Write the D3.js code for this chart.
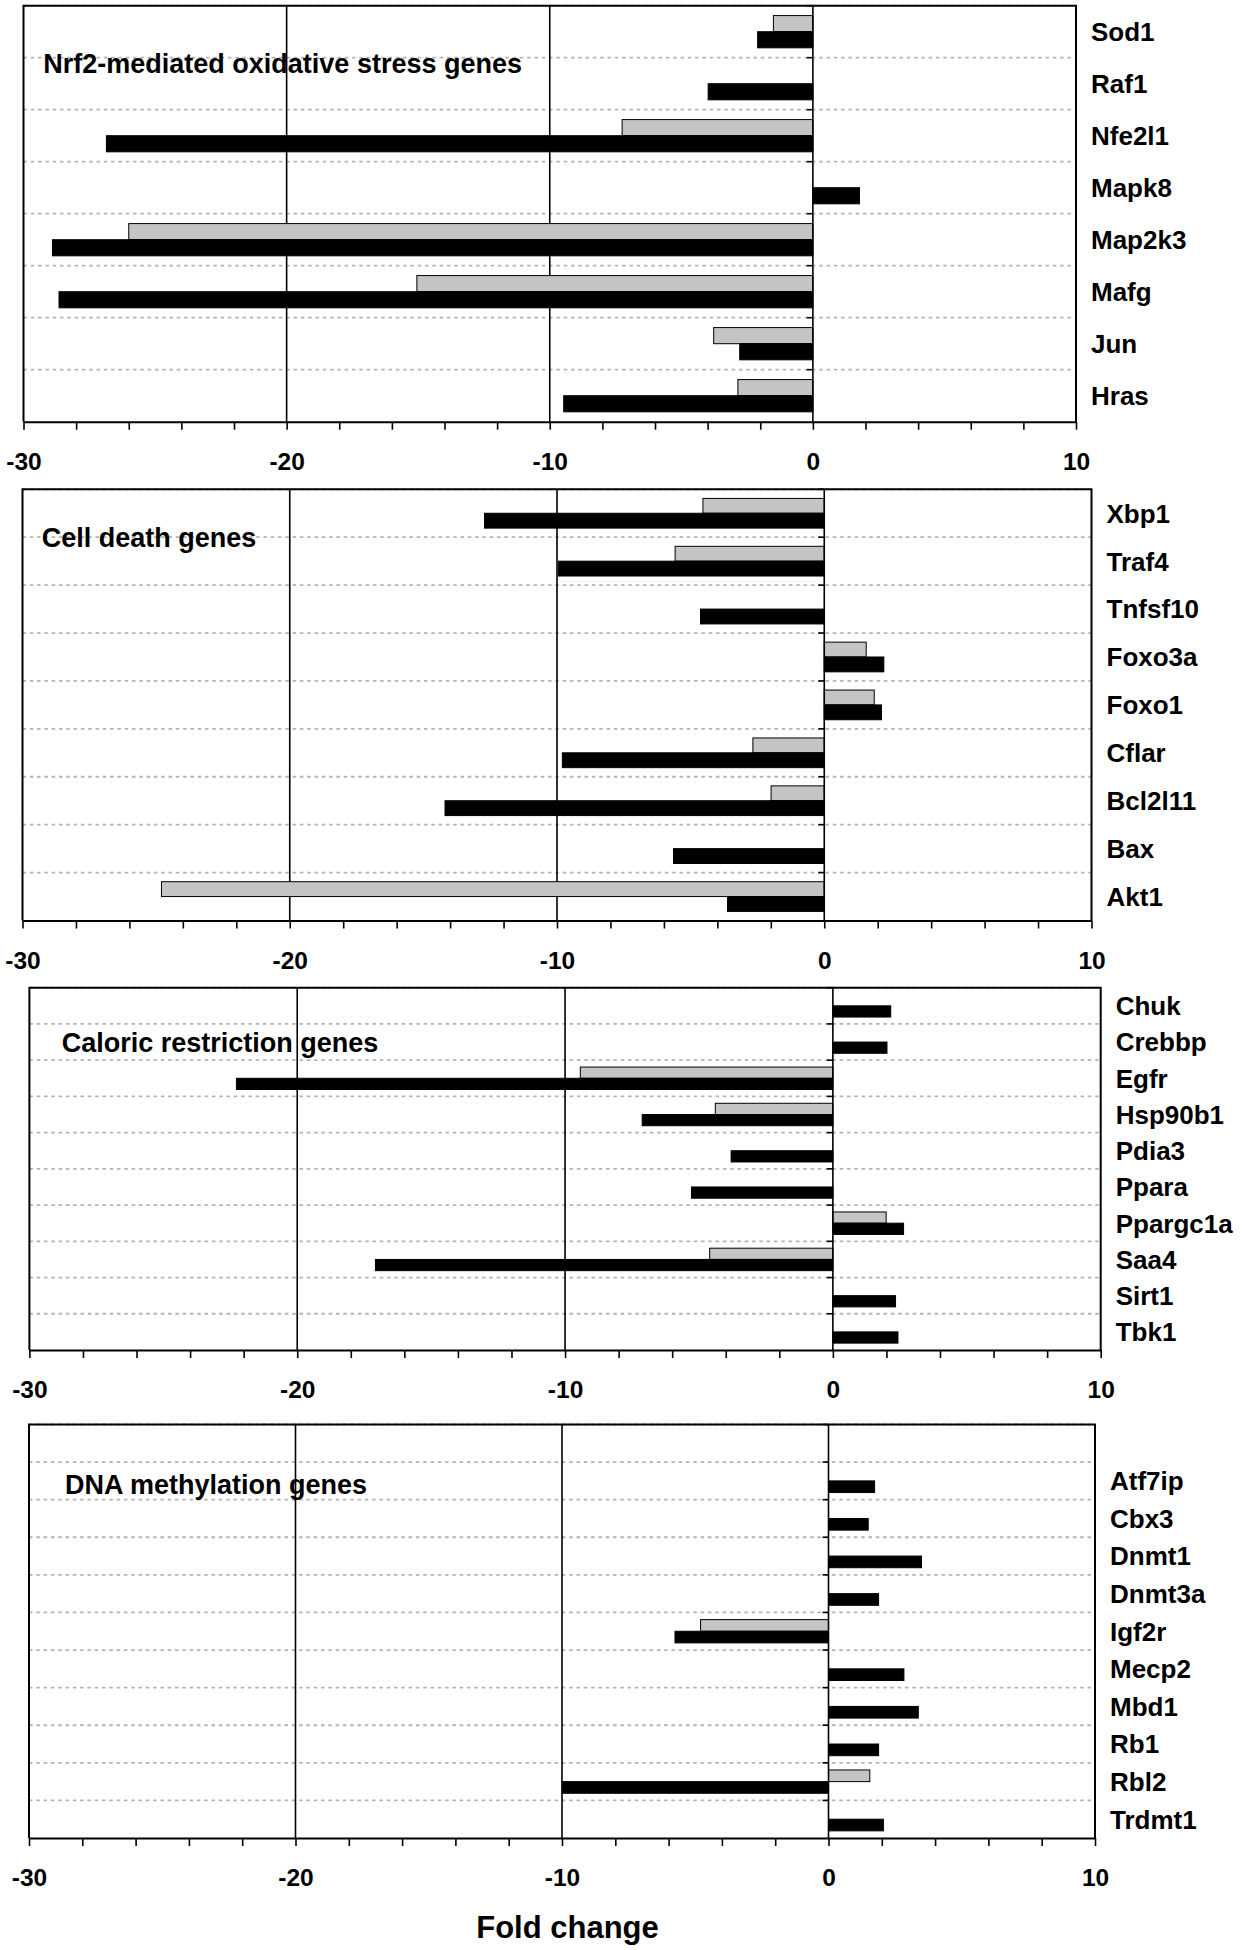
<!DOCTYPE html>
<html>
<head>
<meta charset="utf-8">
<script src="https://cdn.jsdelivr.net/npm/d3@7"></script>
<style>
  html, body { margin: 0; padding: 0; background: #fff; }
  svg { display: block; }
  text { font-family: "Liberation Sans", Arial, Helvetica, sans-serif; font-weight: bold; fill: #000; }
</style>
</head>
<body>
<script>
// ---------------- DATA ----------------
const title1 = "Nrf2-mediated oxidative stress genes";
const categories1 = ["Sod1", "Raf1", "Nfe2l1", "Mapk8", "Map2k3", "Mafg", "Jun", "Hras"];
const gray1  = [-1.5, null, -7.25, null, -26.0, -15.05, -3.77, -2.85];
const black1 = [-2.1, -3.98, -26.85, 1.77, -28.9, -28.65, -2.78, -9.47];

const title2 = "Cell death genes";
const categories2 = ["Xbp1", "Traf4", "Tnfsf10", "Foxo3a", "Foxo1", "Cflar", "Bcl2l11", "Bax", "Akt1"];
const gray2  = [-4.54, -5.58, null, 1.57, 1.87, -2.67, -1.99, null, -24.8];
const black2 = [-12.71, -9.95, -4.63, 2.23, 2.14, -9.8, -14.19, -5.64, -3.62];

const title3 = "Caloric restriction genes";
const categories3 = ["Chuk", "Crebbp", "Egfr", "Hsp90b1", "Pdia3", "Ppara", "Ppargc1a", "Saa4", "Sirt1", "Tbk1"];
const gray3  = [null, null, -9.43, -4.39, null, null, 1.99, -4.6, null, null];
const black3 = [2.16, 2.02, -22.27, -7.12, -3.8, -5.28, 2.64, -17.08, 2.34, 2.43];

const title4 = "DNA methylation genes";
const categories4 = ["", "Atf7ip", "Cbx3", "Dnmt1", "Dnmt3a", "Igf2r", "Mecp2", "Mbd1", "Rb1", "Rbl2", "Trdmt1"];
const gray4  = [null, null, null, null, null, -4.8, null, null, null, 1.55, null];
const black4 = [null, 1.73, 1.49, 3.49, 1.88, -5.76, 2.83, 3.37, 1.88, -9.99, 2.06];

const xDomain = [-30, 10];
const majorTicks = [-30, -20, -10, 0, 10];
const minorTicks = [-30, -28, -26, -24, -22, -20, -18, -16, -14, -12, -10, -8, -6, -4, -2, 0, 2, 4, 6, 8, 10];
const gridValues = [-20, -10];
const xAxisTitle = "Fold change";

// ---------------- LAYOUT ----------------
const layout = [
  { top: 5.7,    bottom: 421.7, left: 23.5, right: 1076,   titleX: 43.3, titleY: 73.3 },
  { top: 489.3,  bottom: 920.5, left: 22.5, right: 1091.5, titleX: 41.7, titleY: 547 },
  { top: 987.7,  bottom: 1350,  left: 29.4, right: 1100.7, titleX: 61.7, titleY: 1051.7 },
  { top: 1424.5, bottom: 1838,  left: 29,   right: 1095,   titleX: 65,   titleY: 1494 }
];

const panels = [
  { title: title1, cats: categories1, gray: gray1, black: black1 },
  { title: title2, cats: categories2, gray: gray2, black: black2 },
  { title: title3, cats: categories3, gray: gray3, black: black3 },
  { title: title4, cats: categories4, gray: gray4, black: black4 }
];

const colors = { gray: "#c4c4c4", black: "#000000" };

const svg = d3.select("body").append("svg")
  .attr("width", 1245).attr("height", 1950);

panels.forEach((p, i) => {
  const L = layout[i];
  const x = d3.scaleLinear().domain(xDomain).range([L.left, L.right]);
  const y = d3.scaleBand().domain(p.cats).range([L.top, L.bottom]);
  const bw = y.bandwidth();
  const pair = bw * 0.62;
  const sub = d3.scaleBand().domain(["gray", "black"]).range([(bw - pair) / 2, (bw + pair) / 2]);
  const g = svg.append("g");

  // dotted horizontal separators
  g.selectAll("line.sep").data(p.cats).join("line")
    .attr("class", "sep")
    .attr("x1", L.left).attr("x2", L.right)
    .attr("y1", d => y(d)).attr("y2", d => y(d))
    .attr("stroke", "#b3b3b3").attr("stroke-width", 1.8)
    .attr("stroke-dasharray", "3.5 3.8");

  // vertical gridlines
  g.selectAll("line.grid").data(gridValues).join("line")
    .attr("class", "grid")
    .attr("x1", d => x(d)).attr("x2", d => x(d))
    .attr("y1", L.top).attr("y2", L.bottom)
    .attr("stroke", "#000").attr("stroke-width", 1.6);

  // title
  g.append("text")
    .attr("x", L.titleX).attr("y", L.titleY)
    .attr("font-size", 27)
    .text(p.title);

  // bars
  const rows = p.cats.map((c, j) => ({ c, gray: p.gray[j], black: p.black[j] }));
  ["gray", "black"].forEach(s => {
    g.selectAll("rect." + s).data(rows.filter(r => r[s] !== null && r[s] !== undefined)).join("rect")
      .attr("class", s)
      .attr("x", r => Math.min(x(0), x(r[s])))
      .attr("width", r => Math.abs(x(r[s]) - x(0)))
      .attr("y", r => y(r.c) + sub(s))
      .attr("height", sub.bandwidth())
      .attr("fill", colors[s])
      .attr("stroke", "#000").attr("stroke-width", 1);
  });

  // zero (category) axis
  g.append("line")
    .attr("x1", x(0)).attr("x2", x(0))
    .attr("y1", L.top).attr("y2", L.bottom)
    .attr("stroke", "#000").attr("stroke-width", 1.6);
  g.selectAll("line.ctick").data(p.cats).join("line")
    .attr("class", "ctick")
    .attr("x1", x(0) - 6).attr("x2", x(0))
    .attr("y1", d => y(d)).attr("y2", d => y(d))
    .attr("stroke", "#000").attr("stroke-width", 1.6);

  // box (top, left, right)
  g.append("path")
    .attr("d", `M${L.left},${L.bottom}V${L.top}H${L.right}V${L.bottom}`)
    .attr("fill", "none").attr("stroke", "#000").attr("stroke-width", 2);

  // bottom axis
  const ax = g.append("g")
    .attr("transform", `translate(0,${L.bottom})`)
    .call(d3.axisBottom(x)
      .tickValues(minorTicks)
      .tickSizeInner(8).tickSizeOuter(0).tickPadding(23)
      .tickFormat(d => majorTicks.includes(d) ? String(d) : ""));
  ax.select(".domain").attr("stroke", "#000").attr("stroke-width", 2);
  ax.selectAll(".tick line").attr("stroke", "#000").attr("stroke-width", 1.6);
  ax.selectAll(".tick text")
    .attr("font-size", 24.5)
    .attr("font-family", "'Liberation Sans', Arial, sans-serif")
    .attr("font-weight", "bold")
    .attr("fill", "#000");

  // category labels
  g.selectAll("text.cat").data(p.cats).join("text")
    .attr("class", "cat")
    .attr("x", L.right + 15)
    .attr("y", d => y(d) + bw / 2)
    .attr("dy", "0.36em")
    .attr("font-size", 26)
    .text(d => d);
});

svg.append("text")
  .attr("x", 567.5).attr("y", 1937.7)
  .attr("text-anchor", "middle")
  .attr("font-size", 31)
  .text(xAxisTitle);
</script>
</body>
</html>
